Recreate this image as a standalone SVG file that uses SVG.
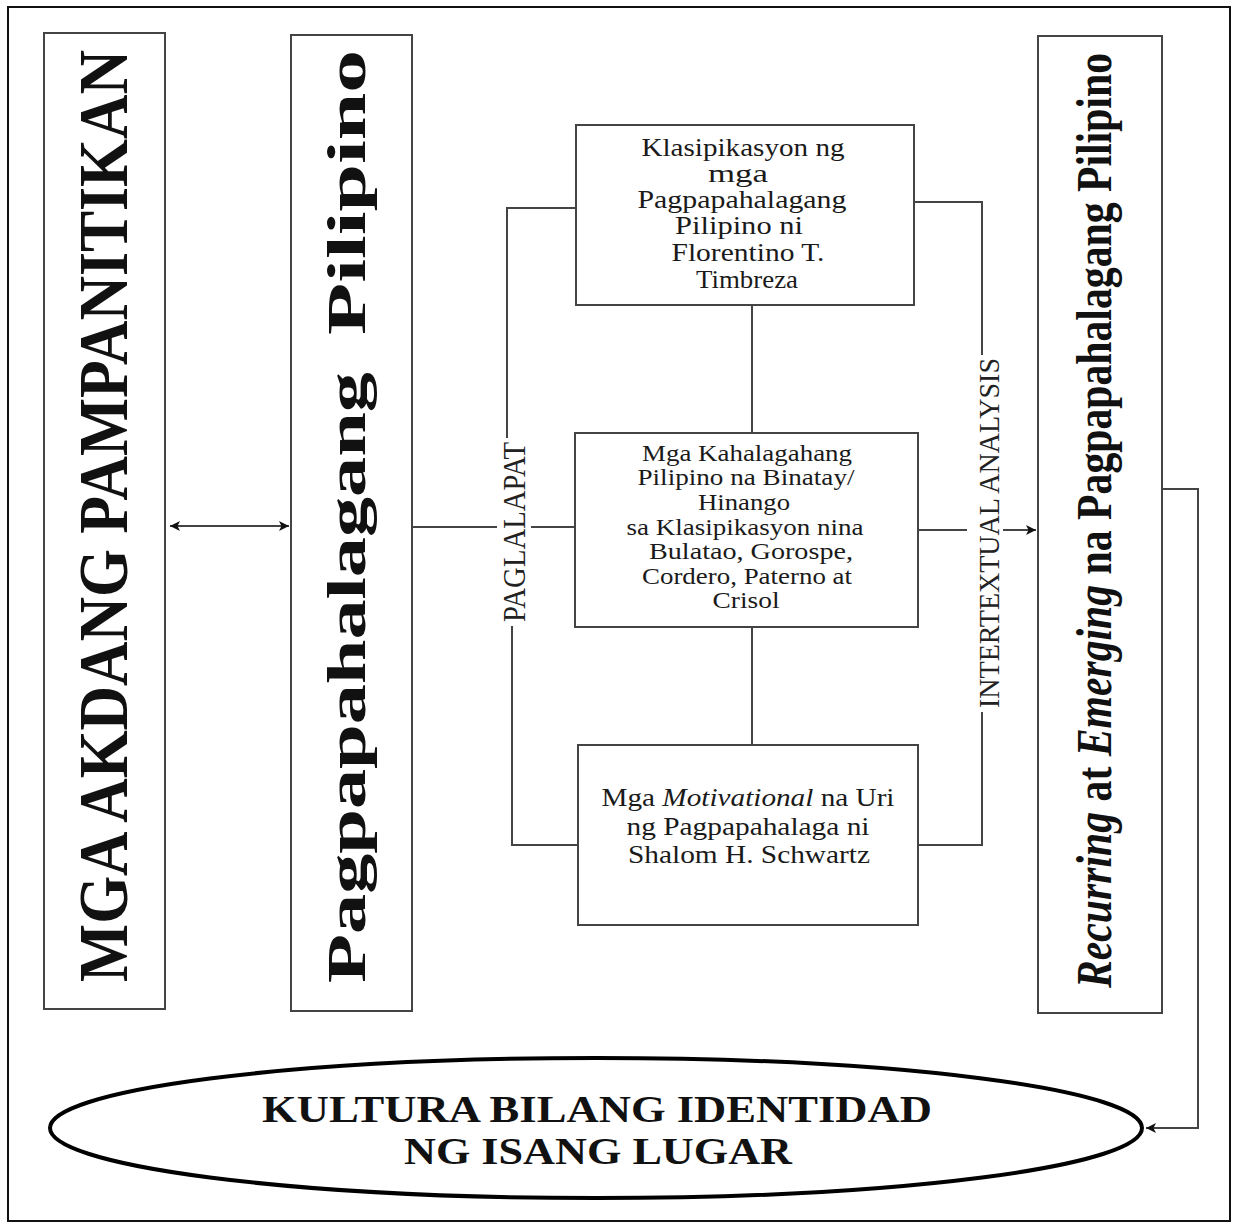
<svg xmlns="http://www.w3.org/2000/svg" width="1235" height="1226" viewBox="0 0 1235 1226">
<defs>
<style>
.frame{fill:none;stroke:#111;stroke-width:2}
.box{fill:#fff;stroke:#444;stroke-width:2}
.ln{fill:none;stroke:#444;stroke-width:2}
.t{font-family:"Liberation Serif","Times New Roman",serif;fill:#1a1a1a;text-anchor:middle}
.big{font-family:"Liberation Serif","Times New Roman",serif;font-weight:bold;fill:#111;text-anchor:middle}
.lbl{font-family:"Liberation Serif","Times New Roman",serif;fill:#222;text-anchor:middle}
</style>
<marker id="ah" viewBox="0 0 10 10" refX="10" refY="5" markerWidth="13" markerHeight="10" markerUnits="userSpaceOnUse" orient="auto-start-reverse">
<path d="M0,0 L10,5 L0,10 L2.5,5 z" fill="#111"/>
</marker>
</defs>
<rect width="1235" height="1226" fill="#fff"/>
<rect class="frame" x="8" y="7" width="1222" height="1214"/>

<g id="connectors">
<line class="ln" x1="170" y1="526" x2="289" y2="526" stroke="#222" marker-start="url(#ah)" marker-end="url(#ah)"/>
<line class="ln" x1="413" y1="527" x2="497" y2="527"/>
<line class="ln" x1="531" y1="527" x2="575" y2="527"/>
<line class="ln" x1="752" y1="305" x2="752" y2="433"/>
<line class="ln" x1="752" y1="627" x2="752" y2="745"/>
<polyline class="ln" points="576,208 507,208 507,438"/>
<polyline class="ln" points="512,626 512,845 578,845"/>
<polyline class="ln" points="914,202 982,202 982,355"/>
<polyline class="ln" points="982,712 982,845 918,845"/>
<line class="ln" x1="918" y1="530" x2="967" y2="530"/>
<line class="ln" x1="1003" y1="530" x2="1036" y2="530" marker-end="url(#ah)"/>
<polyline class="ln" points="1162,489 1198,489 1198,1128 1146,1128" marker-end="url(#ah)"/>
</g>

<g id="lbl-paglalapat">
<text class="lbl" font-size="28" textLength="180" lengthAdjust="spacingAndGlyphs" transform="translate(525,532) rotate(-90) scale(1,1.1)">PAGLALAPAT</text>
</g>
<g id="lbl-intertextual">
<text class="lbl" font-size="28" textLength="350" lengthAdjust="spacingAndGlyphs" transform="translate(999,533) rotate(-90) scale(1,1.05)">INTERTEXTUAL ANALYSIS</text>
</g>

<g id="node-akdang">
<rect class="box" x="44" y="33" width="121" height="976"/>
<text class="big" font-size="60.5" textLength="932" lengthAdjust="spacingAndGlyphs" transform="translate(127,516) rotate(-90) scale(1,1.16)">MGA AKDANG PAMPANITIKAN</text>
</g>

<g id="node-pagpapahalagang">
<rect class="box" x="291" y="35" width="121" height="976"/>
<text class="big" font-size="54" textLength="611" lengthAdjust="spacingAndGlyphs" transform="translate(365,677.5) rotate(-90)">Pagpapahalagang</text>
<text class="big" font-size="54" textLength="285" lengthAdjust="spacingAndGlyphs" transform="translate(365,192.5) rotate(-90)">Pilipino</text>
</g>

<g id="node-klasipikasyon">
<rect class="box" x="576" y="125" width="338" height="180"/>
<text class="t" font-size="24.5" x="743" y="156" textLength="203" lengthAdjust="spacingAndGlyphs">Klasipikasyon ng</text>
<text class="t" font-size="24.5" x="738" y="182" textLength="60" lengthAdjust="spacingAndGlyphs">mga</text>
<text class="t" font-size="24.5" x="742" y="208" textLength="209" lengthAdjust="spacingAndGlyphs">Pagpapahalagang</text>
<text class="t" font-size="24.5" x="739" y="234" textLength="128" lengthAdjust="spacingAndGlyphs">Pilipino ni</text>
<text class="t" font-size="24.5" x="748" y="261" textLength="153" lengthAdjust="spacingAndGlyphs">Florentino T.</text>
<text class="t" font-size="24.5" x="747" y="288" textLength="102" lengthAdjust="spacingAndGlyphs">Timbreza</text>
</g>

<g id="node-kahalagahang">
<rect class="box" x="575" y="433" width="343" height="194"/>
<text class="t" font-size="23" x="747" y="461" textLength="210" lengthAdjust="spacingAndGlyphs">Mga Kahalagahang</text>
<text class="t" font-size="23" x="746" y="485" textLength="217" lengthAdjust="spacingAndGlyphs">Pilipino na Binatay/</text>
<text class="t" font-size="23" x="744" y="510" textLength="92" lengthAdjust="spacingAndGlyphs">Hinango</text>
<text class="t" font-size="23" x="745" y="535" textLength="237" lengthAdjust="spacingAndGlyphs">sa Klasipikasyon nina</text>
<text class="t" font-size="23" x="751" y="559" textLength="204" lengthAdjust="spacingAndGlyphs">Bulatao, Gorospe,</text>
<text class="t" font-size="23" x="747" y="584" textLength="210" lengthAdjust="spacingAndGlyphs">Cordero, Paterno at</text>
<text class="t" font-size="23" x="746" y="608" textLength="67" lengthAdjust="spacingAndGlyphs">Crisol</text>
</g>

<g id="node-motivational">
<rect class="box" x="578" y="745" width="340" height="180"/>
<text class="t" font-size="25" x="748" y="806" textLength="293" lengthAdjust="spacingAndGlyphs">Mga <tspan font-style="italic">Motivational</tspan> na Uri</text>
<text class="t" font-size="25" x="748" y="835" textLength="243" lengthAdjust="spacingAndGlyphs">ng Pagpapahalaga ni</text>
<text class="t" font-size="25" x="749" y="863" textLength="242" lengthAdjust="spacingAndGlyphs">Shalom H. Schwartz</text>
</g>

<g id="node-recurring">
<rect class="box" x="1038" y="36" width="124" height="977"/>
<text class="big" font-size="42" textLength="935" lengthAdjust="spacingAndGlyphs" transform="translate(1111,520.5) rotate(-90) scale(1,1.22)"><tspan font-style="italic">Recurring</tspan> at <tspan font-style="italic">Emerging</tspan> na Pagpapahalagang Pilipino</text>
</g>

<g id="node-kultura">
<ellipse cx="596" cy="1128" rx="546" ry="70" fill="#fff" stroke="#000" stroke-width="4"/>
<text class="big" font-size="37" x="597" y="1122" textLength="670" lengthAdjust="spacingAndGlyphs">KULTURA BILANG IDENTIDAD</text>
<text class="big" font-size="37" x="598" y="1164" textLength="388" lengthAdjust="spacingAndGlyphs">NG ISANG LUGAR</text>
</g>
</svg>
